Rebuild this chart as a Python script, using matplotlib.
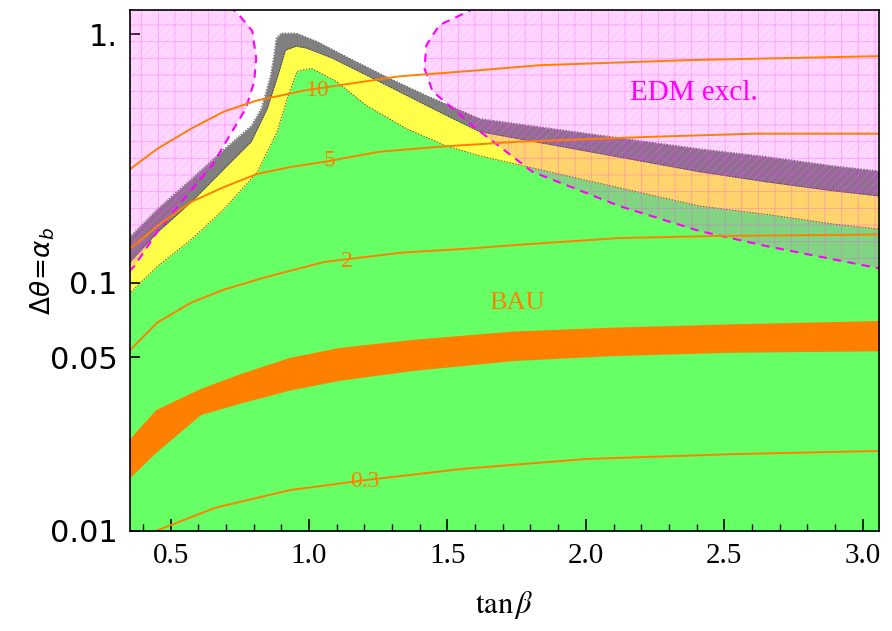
import numpy as np
import matplotlib.pyplot as plt
from matplotlib.ticker import MultipleLocator, NullLocator

plt.rcParams['hatch.linewidth'] = 0.6

# band edges (upper boundaries)
gray_x = [0.35, 0.451, 0.574, 0.693, 0.791, 0.827, 0.860, 0.874, 0.881, 0.899, 0.953,
          1.026, 1.145, 1.290, 1.424, 1.615, 2.014, 2.412, 2.654, 2.893, 3.06]
gray_y = [0.152, 0.1975, 0.261, 0.345, 0.428, 0.502, 0.676, 0.838, 0.963, 1.009, 1.009,
          0.937, 0.800, 0.664, 0.566, 0.457, 0.397, 0.345, 0.321, 0.295, 0.281]

yel_x = [0.35, 0.451, 0.574, 0.693, 0.791, 0.849, 0.892, 0.914, 0.953, 0.990,
         1.083, 1.229, 1.373, 1.496, 1.615, 2.014, 2.412, 2.654, 2.893, 3.06]
yel_y = [0.120, 0.159, 0.211, 0.287, 0.369, 0.502, 0.708, 0.861, 0.894, 0.878,
         0.800, 0.664, 0.551, 0.470, 0.405, 0.336, 0.279, 0.254, 0.234, 0.223]

grn_x = [0.35, 0.451, 0.574, 0.693, 0.813, 0.885, 0.921, 0.957, 1.008,
         1.098, 1.207, 1.352, 1.496, 1.615, 2.014, 2.412, 2.654, 2.893, 3.06]
grn_y = [0.090, 0.116, 0.149, 0.1975, 0.279, 0.405, 0.551, 0.708, 0.728,
         0.645, 0.516, 0.416, 0.355, 0.324, 0.256, 0.203, 0.188, 0.172, 0.164]

# BAU band
bau_x = [0.35, 0.446, 0.608, 0.751, 0.930, 1.109, 1.378, 1.737, 2.095, 2.525, 3.06]
bau_hi = [0.0234, 0.0308, 0.0375, 0.0430, 0.0500, 0.0548, 0.0591, 0.0638, 0.0661, 0.0682, 0.0703]
bau_lo = [0.0163, 0.0207, 0.0294, 0.0327, 0.0369, 0.0404, 0.0443, 0.0485, 0.0508, 0.0524, 0.0531]

# EDM excluded regions (curved boundaries)
edm_l_x = [0.712, 0.747, 0.795, 0.809, 0.802, 0.772, 0.722, 0.649, 0.548, 0.45, 0.368, 0.35]
edm_l_y = [1.3, 1.194, 1.028, 0.800, 0.645, 0.502, 0.405, 0.295, 0.217, 0.159, 0.116, 0.111]
edm_r_x = [1.598, 1.579, 1.471, 1.424, 1.417, 1.446, 1.519, 1.590, 1.807, 2.122, 2.412,
           2.654, 2.893, 3.06]
edm_r_y = [1.3, 1.239, 1.087, 0.903, 0.728, 0.588, 0.502, 0.428, 0.279, 0.203, 0.161,
           0.140, 0.124, 0.114]

# contour lines
c10_x = [0.35, 0.451, 0.574, 0.693, 0.813, 0.899, 0.983, 1.109, 1.326, 1.615, 1.832, 2.364, 3.06]
c10_y = [0.284, 0.345, 0.416, 0.488, 0.541, 0.566, 0.593, 0.622, 0.676, 0.715, 0.749, 0.785, 0.815]
c5_x = [0.35, 0.451, 0.574, 0.693, 0.813, 0.936, 1.055, 1.254, 1.471, 1.761, 2.241, 2.603, 3.06]
c5_y = [0.136, 0.1685, 0.211, 0.2424, 0.2736, 0.292, 0.306, 0.336, 0.352, 0.369, 0.386, 0.397, 0.397]
c2_x = [0.35, 0.451, 0.574, 0.693, 0.838, 1.055, 1.337, 1.579, 1.761, 2.122, 2.484, 3.06]
c2_y = [0.0530, 0.0689, 0.0830, 0.0937, 0.1047, 0.121, 0.132, 0.137, 0.142, 0.151, 0.154, 0.156]
c03_x = [0.446, 0.661, 0.930, 1.199, 1.557, 2.005, 2.543, 3.06]
c03_y = [0.0100, 0.0124, 0.0146, 0.0160, 0.0178, 0.0195, 0.0204, 0.0210]

contours = [(c10_x, c10_y, "10", 1.03, 0.59),
            (c5_x, c5_y, "5", 1.075, 0.31),
            (c2_x, c2_y, "2", 1.135, 0.122),
            (c03_x, c03_y, "0.3", 1.20, 0.0158)]

xticks = [0.5, 1.0, 1.5, 2.0, 2.5, 3.0]
xticklabels = ["0.5", "1.0", "1.5", "2.0", "2.5", "3.0"]
yticks = [0.01, 0.05, 0.1, 1.0]
yticklabels = ["0.01", "0.05", "0.1", "1."]

serif = "Liberation Serif"
orange = "#ff8000"

fig = plt.figure(figsize=(8.92, 6.31), dpi=100)
ax = fig.add_axes([0.1457, 0.1585, 0.8397, 0.8257])
ax.set_yscale('log')
xmin, xmax, ymin, ymax = 0.353, 3.059, 0.01, 1.25
ax.set_xlim(xmin, xmax)
ax.set_ylim(ymin, ymax)

ybot = 0.005
ax.fill_between(gray_x, ybot, gray_y, color='#808080', lw=0, zorder=1)
ax.fill_between(yel_x, ybot, yel_y, color='#ffff4a', lw=0, zorder=1.1)
ax.fill_between(grn_x, ybot, grn_y, color='#66ff66', lw=0, zorder=1.2)
for xs, ys in [(gray_x, gray_y), (yel_x, yel_y), (grn_x, grn_y)]:
    ax.plot(xs, ys, color='#333333', lw=0.7, ls=(0, (1.5, 1.5)), alpha=0.8, zorder=1.3)

ax.fill_between(bau_x, bau_lo, bau_hi, color=orange, lw=0, zorder=1.4)

# EDM exclusion overlays
left_poly_x = [xmin - 0.05] + edm_l_x + [xmin - 0.05]
left_poly_y = [1.3] + edm_l_y + [edm_l_y[-1]]
right_poly_x = edm_r_x + [xmax + 0.05, xmax + 0.05]
right_poly_y = edm_r_y + [edm_r_y[-1], 1.3]
for px, py in [(left_poly_x, left_poly_y), (right_poly_x, right_poly_y)]:
    ax.fill(px, py, facecolor=(1, 0, 1, 0.16), edgecolor='none', lw=0, zorder=2)
    ax.fill(px, py, facecolor='none', edgecolor=(1, 0.2, 1, 0.35), hatch='+', lw=0, zorder=2.1)
    ax.fill(px, py, facecolor='none', edgecolor=(1, 0.6, 1, 0.25), hatch='////', lw=0, zorder=2.1)
ax.plot(edm_l_x, edm_l_y, color='#ff00ff', lw=1.5, ls=(0, (4, 3)), zorder=2.2)
ax.plot(edm_r_x, edm_r_y, color='#ff00ff', lw=1.5, ls=(0, (4, 3)), zorder=2.2)

for xs, ys, lab, tx, ty in contours:
    ax.plot(xs, ys, color=orange, lw=1.4, zorder=3)
    ax.text(tx, ty, lab, color=orange, fontsize=17, family=serif,
            ha='center', va='center', zorder=3.1)

ax.text(1.75, 0.083, "BAU", color=orange, fontsize=19, family=serif,
        ha='center', va='center', zorder=3.1)
ax.text(2.39, 0.577, "EDM excl.", color='#ff00ff', fontsize=21, family=serif,
        ha='center', va='center', zorder=3.1)

# axes styling
ax.set_xticks(xticks, labels=xticklabels, fontsize=21, family=serif)
ax.xaxis.set_minor_locator(MultipleLocator(0.1))
ax.set_yticks(yticks, labels=yticklabels, fontsize=22, family='DejaVu Sans')
ax.yaxis.set_minor_locator(NullLocator())
ax.tick_params(which='both', direction='in', top=False, right=False, color='black')
ax.tick_params(axis='x', which='major', length=8.5, width=1.2, pad=9)
ax.tick_params(axis='x', which='minor', length=5, width=1.0)
ax.tick_params(axis='y', which='major', length=7, width=1.2, pad=9)
for sp in ax.spines.values():
    sp.set_linewidth(1.2)
    sp.set_zorder(5)

ax.set_xlabel(r'$\tan\beta$', fontsize=22, math_fontfamily='stix', labelpad=14)
ax.set_ylabel(r'$\Delta\theta\!=\!\alpha_b$', fontsize=19,
              math_fontfamily='dejavusans')
ax.yaxis.set_label_coords(-0.097, 0.5)

fig.savefig('out.png', dpi=100)
